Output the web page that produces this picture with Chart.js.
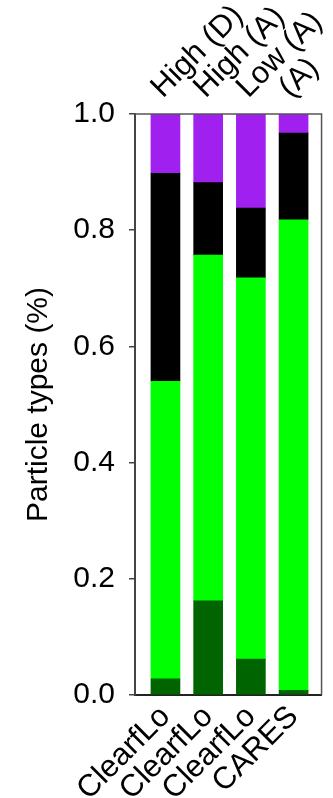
<!DOCTYPE html>
<html>
<head>
<meta charset="utf-8">
<script src="https://cdn.jsdelivr.net/npm/chart.js@4/dist/chart.umd.min.js"></script>
<style>
  html, body { margin: 0; padding: 0; background: #ffffff; }
  #wrap { position: relative; width: 333px; height: 798px; }
</style>
</head>
<body>
<div id="wrap"><canvas id="chart"></canvas></div>
<script>
// Campaign / site names (bottom) and regime labels (top)
const campaigns = ['ClearfLo', 'ClearfLo', 'ClearfLo', 'CARES'];
const regimes = ['High (D)', 'High (A)', 'Low (A)', '(A)'];

// Fraction of each particle type, stacked bottom to top
const darkGreenFrac = [0.028, 0.162, 0.062, 0.008];
const greenFrac     = [0.512, 0.595, 0.656, 0.810];
const blackFrac     = [0.358, 0.125, 0.120, 0.149];
const purpleFrac    = [0.102, 0.118, 0.162, 0.033];

const yTicks = [0.0, 0.2, 0.4, 0.6, 0.8, 1.0];

const FONT = "'Liberation Sans', Arial, Helvetica, sans-serif";
const X_MIN = -0.713, X_MAX = 3.655;

const toPoints = arr => arr.map((v, i) => ({ x: i, y: v }));
const tickAt = scale => { scale.ticks = campaigns.map((_, i) => ({ value: i })); };

// Thin frame along the top and right of the plot area
const framePlugin = {
  id: 'frame',
  afterDatasetsDraw(chart) {
    const { ctx, chartArea: a } = chart;
    ctx.save();
    ctx.strokeStyle = '#555555';
    ctx.lineWidth = 1.5;
    ctx.beginPath();
    ctx.moveTo(a.left, a.top);
    ctx.lineTo(a.right, a.top);
    ctx.lineTo(a.right, a.bottom);
    ctx.stroke();
    ctx.restore();
  }
};

const makeSet = (label, data, color) => ({
  label, data: toPoints(data), backgroundColor: color,
  borderWidth: 0, barThickness: 29, xAxisID: 'x', yAxisID: 'y'
});

new Chart(document.getElementById('chart'), {
  type: 'bar',
  data: {
    datasets: [
      makeSet('Dark green', darkGreenFrac, '#006400'),
      makeSet('Green', greenFrac, '#00ff00'),
      makeSet('Black', blackFrac, '#000000'),
      makeSet('Purple', purpleFrac, '#a020f0')
    ]
  },
  options: {
    responsive: true,
    maintainAspectRatio: false,
    animation: false,
    layout: { padding: { left: 0, right: 8, top: 0, bottom: 0 } },
    plugins: { legend: { display: false }, tooltip: { enabled: false } },
    scales: {
      x: {
        type: 'linear', position: 'bottom', stacked: true, offset: false,
        min: X_MIN, max: X_MAX,
        afterBuildTicks: tickAt,
        afterFit: s => { s.height = 103; },
        grid: { display: false },
        border: { display: true, color: '#222222', width: 2 },
        ticks: {
          autoSkip: false, minRotation: 45, maxRotation: 45, padding: 0,
          color: '#000000', font: { family: FONT, size: 31, lineHeight: 0.8 },
          callback: (v) => campaigns[v] ?? ''
        }
      },
      xTop: {
        type: 'linear', position: 'top', offset: false,
        min: X_MIN, max: X_MAX,
        afterBuildTicks: tickAt,
        afterFit: s => { s.height = 114; },
        grid: { display: false },
        border: { display: false },
        ticks: {
          autoSkip: false, minRotation: 45, maxRotation: 45, padding: 9,
          color: '#000000', font: { family: FONT, size: 31, lineHeight: 0.4 },
          callback: (v) => regimes[v] ?? ''
        }
      },
      y: {
        stacked: true, min: 0, max: 1,
        afterBuildTicks: s => { s.ticks = yTicks.map(v => ({ value: v })); },
        afterFit: s => { s.width = 135; },
        grid: { drawOnChartArea: false, drawTicks: true, tickLength: 6, color: '#444444', lineWidth: 1.5 },
        border: { display: true, color: '#444444', width: 2 },
        ticks: {
          padding: 14, color: '#000000', font: { family: FONT, size: 30 },
          callback: v => Number(v).toFixed(1)
        },
        title: {
          display: true, text: 'Particle types (%)', color: '#000000',
          font: { family: FONT, size: 30 }, padding: { top: 21, bottom: 0 }
        }
      }
    }
  },
  plugins: [framePlugin]
});
</script>
</body>
</html>
